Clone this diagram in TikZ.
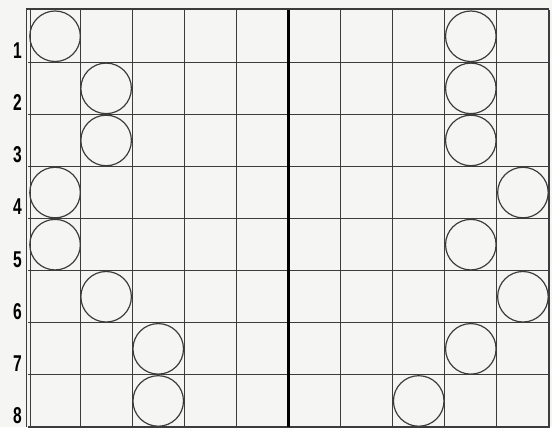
\documentclass[tikz,border=0pt]{standalone}
\usepackage{fontspec}
\setsansfont{Liberation Sans}[FakeStretch=0.68]
\usepackage{xcolor}
\usetikzlibrary{positioning}
\definecolor{gridgray}{HTML}{3C3C3C}
\definecolor{paper}{HTML}{F5F5F3}

\begin{document}
\begin{tikzpicture}[
    x=1cm, y=1cm,
    gridline/.style={draw=gridgray, line width=0.6pt},
    divider/.style={draw=black, line width=1.7pt},
    disc/.style={circle, draw=gridgray, line width=0.65pt, minimum size=0.97cm, inner sep=0pt},
    rowlabel/.style={font=\sffamily\bfseries\fontsize{12.5}{14}\selectfont, anchor=base, inner sep=0pt}
]
% Canvas
\fill[paper] (-0.537,0) rectangle (10.058,8.196);
\useasboundingbox (-0.537,0) rectangle (10.058,8.196);

% Grid
\foreach \c in {1,...,9} {\draw[gridline] (\c,0) -- (\c,8);}
\foreach \r in {1,...,7} {\draw[gridline] (0,\r) -- (10,\r);}
\draw[gridline] (0,0) -- (10,0) -- (10,8);
\draw[draw=gridgray, line width=0.9pt] (-0.03,8.02) -- (10,8.02);
\draw[gridline] (-0.03,0) -- (-0.03,8.02);
\draw[gridline] (0.04,0) -- (0.04,8);

% Middle divider
\draw[divider] (5,0) -- (5,8);

% Row numbers
\foreach \r in {1,...,8} {
  \node[rowlabel] (row\r) at (-0.2,{8-\r+0.07}) {\r};
}

% Circles, left half
\node[disc] (l1) at (0.52,7.5) {};
\node[disc] (l2) at (1.5,6.5) {};
\node[disc] (l3) at (1.5,5.5) {};
\node[disc] (l4) at (0.52,4.5) {};
\node[disc] (l5) at (0.52,3.5) {};
\node[disc] (l6) at (1.5,2.5) {};
\node[disc] (l7) at (2.5,1.5) {};
\node[disc] (l8) at (2.5,0.5) {};

% Circles, right half
\node[disc] (r1) at (8.5,7.5) {};
\node[disc] (r2) at (8.5,6.5) {};
\node[disc] (r3) at (8.5,5.5) {};
\node[disc] (r4) at (9.5,4.5) {};
\node[disc] (r5) at (8.5,3.5) {};
\node[disc] (r6) at (9.5,2.5) {};
\node[disc] (r7) at (8.5,1.5) {};
\node[disc] (r8) at (7.5,0.5) {};

\end{tikzpicture}
\end{document}
